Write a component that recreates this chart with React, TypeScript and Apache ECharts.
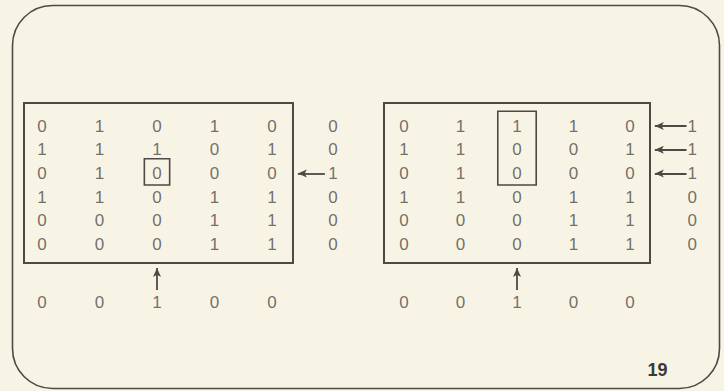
import React, { useEffect, useRef } from "react";
import * as echarts from "echarts";

// ---- data ----
const leftMatrix = [
  [0, 1, 0, 1, 0],
  [1, 1, 1, 0, 1],
  [0, 1, 0, 0, 0],
  [1, 1, 0, 1, 1],
  [0, 0, 0, 1, 1],
  [0, 0, 0, 1, 1],
];
const leftResult = [0, 0, 1, 0, 0, 0];
const leftBottom = [0, 0, 1, 0, 0];

const rightMatrix = [
  [0, 1, 1, 1, 0],
  [1, 1, 0, 0, 1],
  [0, 1, 0, 0, 0],
  [1, 1, 0, 1, 1],
  [0, 0, 0, 1, 1],
  [0, 0, 0, 1, 1],
];
const rightResult = [1, 1, 1, 0, 0, 0];
const rightBottom = [0, 0, 1, 0, 0];

const pageNumber = "19";

// ---- style / layout ----
const BG = "#f7f4e5";
const INK = "#4b4a44";
const TEXT = "#4e4d47";
const FONT = "'Liberation Sans', Arial, sans-serif";
const BOTTOM_ROW = 7.45;

const panels = [
  {
    matrix: leftMatrix, result: leftResult, bottom: leftBottom,
    gridLeft: 13.25, colW: 57.5, resultX: 5.06,
    frameX: [-0.313, 4.365], hlDx: 0.22, arrowHead: 4.45, arrowTail: 4.92,
  },
  {
    matrix: rightMatrix, result: rightResult, bottom: rightBottom,
    gridLeft: 375.75, colW: 56.5, resultX: 5.1,
    frameX: [-0.354, 4.354], hlDx: 0.34, arrowHead: 4.44, arrowTail: 5.0,
  },
];

export default function App() {
  const ref = useRef<HTMLDivElement>(null);
  useEffect(() => {
    const chart = echarts.init(ref.current!, null, { renderer: "svg" });
    const grid: any[] = [];
    const xAxis: any[] = [];
    const yAxis: any[] = [];
    const series: any[] = [];
    panels.forEach((p, i) => {
      grid.push({ left: p.gridLeft, width: p.colW * 6, top: 90.45, height: 225.15, show: false });
      xAxis.push({ type: "value", gridIndex: i, min: -0.5, max: 5.5, show: false });
      yAxis.push({ type: "value", gridIndex: i, min: -1.5, max: 8, inverse: true, show: false });
      const cells: any[] = [];
      p.matrix.forEach((row, r) => row.forEach((v, c) => cells.push([c, r, v])));
      p.result.forEach((v, r) => cells.push([p.resultX, r, v]));
      p.bottom.forEach((v, c) => cells.push([c, BOTTOM_ROW, v]));
      const hitRows = p.result.map((v, k) => (v === 1 ? k : -1)).filter((k) => k >= 0);
      const hitCol = p.bottom.indexOf(1);
      const lines: any[] = hitRows.map((r) => [
        { coord: [p.arrowHead, r] },
        { coord: [p.arrowTail, r] },
      ]);
      lines.push([{ coord: [hitCol, 5.99] }, { coord: [hitCol, 6.92] }]);
      series.push({
        type: "scatter",
        xAxisIndex: i,
        yAxisIndex: i,
        data: cells,
        symbolSize: 1,
        clip: false,
        silent: true,
        itemStyle: { color: "rgba(0,0,0,0)" },
        label: {
          show: true,
          position: "inside",
          formatter: (d: any) => String(d.value[2]),
          color: TEXT,
          fontFamily: FONT,
          fontSize: 17,
        },
        markArea: {
          silent: true,
          label: { show: false },
          data: [
            [
              { coord: [p.frameX[0], -0.97], itemStyle: { color: "transparent", borderColor: INK, borderWidth: 2 } },
              { coord: [p.frameX[1], 5.78] },
            ],
            [
              {
                coord: [hitCol - p.hlDx, Math.min(...hitRows) - 0.62],
                itemStyle: { color: "transparent", borderColor: INK, borderWidth: 1.6 },
              },
              { coord: [hitCol + p.hlDx, Math.max(...hitRows) + 0.49] },
            ],
          ],
        },
        markLine: {
          silent: true,
          symbol: ["arrow", "none"],
          symbolSize: [6, 9],
          label: { show: false },
          lineStyle: { color: INK, width: 1.8, type: "solid" },
          data: lines,
        },
      });
    });
    chart.setOption({
      animation: false,
      backgroundColor: BG,
      grid, xAxis, yAxis, series,
      graphic: [
        {
          type: "rect",
          shape: { x: 12.5, y: 5.5, width: 707, height: 383, r: 40 },
          style: { fill: "none", stroke: INK, lineWidth: 1.6 },
          silent: true,
        },
        {
          type: "text",
          x: 657.5, y: 370,
          style: {
            text: pageNumber, fill: "#3a3934", font: `bold 18px ${FONT}`,
            textAlign: "center", textVerticalAlign: "middle",
          },
          silent: true,
        },
      ],
    });
    return () => chart.dispose();
  }, []);
  return (
    <div
      ref={ref}
      style={{ position: "fixed", left: 0, top: 0, width: 724, height: 391, background: BG }}
    />
  );
}
